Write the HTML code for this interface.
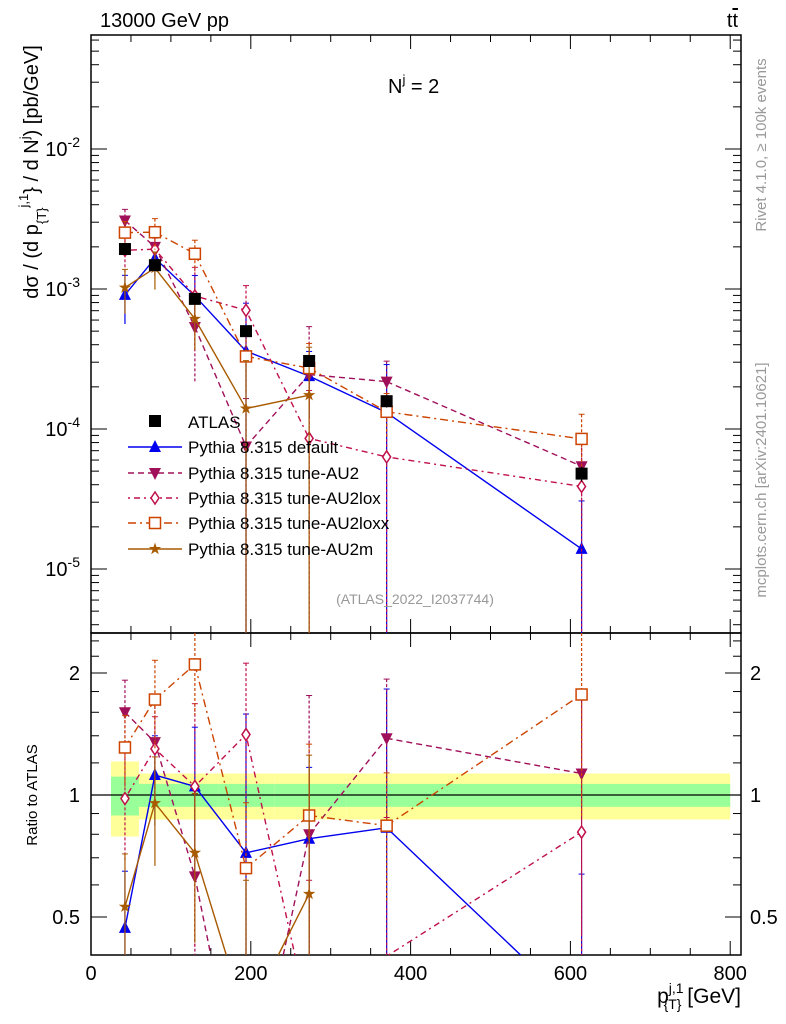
<!DOCTYPE html>
<html><head><meta charset="utf-8">
<style>
html,body{margin:0;background:#fff;overflow:hidden;width:786px;height:1024px;}
svg{display:block;font-family:"Liberation Sans",sans-serif;}
</style></head>
<body>
<svg id="chart" width="786" height="1024"></svg>
<script>
const xCenters=[42.5,80,130,194,273,370,614];
const atlasVals=[1.93e-3,1.48e-3,8.5e-4,5.0e-4,3.06e-4,1.58e-4,4.8e-5];
const atlasErr=[0.08,0.07,0.06,0.06,0.08,0.1,0.12];
const binEdges=[25,60,100,160,230,320,430,800];
const bandYellow=[0.21,0.13,0.13,0.13,0.13,0.13,0.13];
const bandGreen=[0.11,0.065,0.065,0.065,0.065,0.065,0.065];
const seriesNames=["Pythia 8.315 default","Pythia 8.315 tune-AU2","Pythia 8.315 tune-AU2lox","Pythia 8.315 tune-AU2loxx","Pythia 8.315 tune-AU2m"];
const ratioDefault=[0.47,1.12,1.05,0.72,0.78,0.83,0.29];
const ratioAU2=[1.6,1.35,0.63,0.15,0.8,1.38,1.13];
const ratioAU2lox=[0.98,1.3,1.05,1.41,0.28,0.4,0.81];
const ratioAU2loxx=[1.31,1.72,2.1,0.66,0.89,0.84,1.77];
const ratioAU2m=[0.53,0.955,0.72,0.28,0.57,null,null];
const errDefault=[0.38,0.25,0.4,1.2,0.5,1.2,1.2];
const errAU2=[0.2,0.3,0.6,1.2,1.2,0.4,0.6];
const errAU2lox=[0.3,0.2,0.6,0.5,1.2,1.2,1.2];
const errAU2loxx=[0.2,0.25,0.25,0.45,0.5,0.35,0.5];
const errAU2m=[0.35,0.3,0.4,1.2,1.2,null,null];
const xTicks=[0,200,400,600,800];

const svg=document.getElementById('chart');
const NS='http://www.w3.org/2000/svg';
function el(tag,attrs,parent){const e=document.createElementNS(NS,tag);for(const k in attrs)e.setAttribute(k,attrs[k]);(parent||svg).appendChild(e);return e;}
const X0=91,X1=741;
const xs=v=>91+v*0.799;
const MT=35,MB=633,RB=955;
const ys=v=>289-140*(Math.log10(v)+3);
const yr=r=>795-122*Math.log2(r);
const cl=(y,a,b)=>Math.max(a,Math.min(b,y));

const bands=el('g',{});


for(let i=0;i<bandYellow.length;i++){
  const x0=xs(binEdges[i]),x1=xs(binEdges[i+1]);
  el('rect',{x:x0,y:yr(1+bandYellow[i]),width:x1-x0,height:yr(1-bandYellow[i])-yr(1+bandYellow[i]),fill:'#ffff99'},bands);
}
for(let i=0;i<bandGreen.length;i++){
  const x0=xs(binEdges[i]),x1=xs(binEdges[i+1]);
  el('rect',{x:x0,y:yr(1+bandGreen[i]),width:x1-x0,height:yr(1-bandGreen[i])-yr(1+bandGreen[i]),fill:'#99ff99'},bands);
}
el('line',{x1:X0,x2:X1,y1:yr(1),y2:yr(1),stroke:'#000','stroke-width':1.2});

el('rect',{x:X0,y:MT,width:X1-X0,height:MB-MT,fill:'none',stroke:'#000','stroke-width':1.5});
el('rect',{x:X0,y:MB,width:X1-X0,height:RB-MB,fill:'none',stroke:'#000','stroke-width':1.5});

for(let v=0;v<=800;v+=50){
  const x=xs(v),L=(v%200===0)?14:7;
  el('line',{x1:x,x2:x,y1:MB,y2:MB-L,stroke:'#000'});
  el('line',{x1:x,x2:x,y1:MT,y2:MT+L,stroke:'#000'});
  el('line',{x1:x,x2:x,y1:RB,y2:RB-L,stroke:'#000'});
  el('line',{x1:x,x2:x,y1:MB,y2:MB+L,stroke:'#000'});
}
xTicks.forEach(v=>{const t=el('text',{x:xs(v),y:980,'text-anchor':'middle','font-size':20});t.textContent=v;
});
for(let d=-6;d<=-1;d++){for(let m=1;m<10;m++){const v=m*Math.pow(10,d);const y=ys(v);if(y<MT||y>MB)continue;const L=m===1?16:8;
el('line',{x1:X0,x2:X0+L,y1:y,y2:y,stroke:'#000'});el('line',{x1:X1,x2:X1-L,y1:y,y2:y,stroke:'#000'});}}
[-2,-3,-4,-5].forEach(d=>{const t=el('text',{x:80,y:ys(Math.pow(10,d))+7,'text-anchor':'end','font-size':20});

t.innerHTML='10<tspan dy="-9" font-size="14">'+d+'</tspan>';});
[0.5,0.6,0.7,0.8,0.9,1,1.2,1.4,1.6,1.8,2,2.2,2.4].forEach(r=>{const y=yr(r);if(y<MB||y>RB)return;const L=(r===0.5||r===1||r===2)?16:8;
el('line',{x1:X0,x2:X0+L,y1:y,y2:y,stroke:'#000'});el('line',{x1:X1,x2:X1-L,y1:y,y2:y,stroke:'#000'});});
[[2,'2'],[1,'1'],[0.5,'0.5']].forEach(([r,s])=>{
 const t=el('text',{x:80,y:yr(r)+7,'text-anchor':'end','font-size':20});t.textContent=s;
 
 const t2=el('text',{x:750,y:yr(r)+7,'font-size':20});t2.textContent=s;
 });

const series=[
 {name:seriesNames[0],r:ratioDefault,e:errDefault,color:'#0000ee',dash:'',marker:'tri'},
 {name:seriesNames[1],r:ratioAU2,e:errAU2,color:'#a0105a',dash:'6,4',marker:'tridown'},
 {name:seriesNames[2],r:ratioAU2lox,e:errAU2lox,color:'#c0104a',dash:'2,4,6,4',marker:'diamond'},
 {name:seriesNames[3],r:ratioAU2loxx,e:errAU2loxx,color:'#cc4400',dash:'8,4,2,4',marker:'square'},
 {name:seriesNames[4],r:ratioAU2m,e:errAU2m,color:'#a85a00',dash:'',marker:'star'}];
function marker(g,type,x,y,c){
 if(type==='tri')el('polygon',{points:`${x},${y-7} ${x-6},${y+5} ${x+6},${y+5}`,fill:c},g);
 else if(type==='tridown')el('polygon',{points:`${x},${y+7} ${x-6},${y-5} ${x+6},${y-5}`,fill:c},g);
 else if(type==='diamond')el('polygon',{points:`${x},${y-6} ${x-4},${y} ${x},${y+6} ${x+4},${y}`,fill:'#fff',stroke:c,'stroke-width':1.5},g);
 else if(type==='square')el('rect',{x:x-5.5,y:y-5.5,width:11,height:11,fill:'#fff',stroke:c,'stroke-width':1.5},g);
 else if(type==='star'){let p=[];for(let i=0;i<10;i++){const a=-Math.PI/2+i*Math.PI/5,rr=i%2?2.5:6.5;p.push((x+rr*Math.cos(a))+','+(y+rr*Math.sin(a)));}el('polygon',{points:p.join(' '),fill:c},g);}
 else if(type==='sq')el('rect',{x:x-6,y:y-6,width:12,height:12,fill:c},g);
}
// draw polyline segments clipped to [top,bot]
function clippedPath(pts,top,bot){
 let d='';
 for(let i=0;i<pts.length-1;i++){
  let [xa,ya]=pts[i],[xb,yb]=pts[i+1];
  if((ya>bot&&yb>bot)||(ya<top&&yb<top))continue;
  const f=(yt)=>xa+(xb-xa)*(yt-ya)/(yb-ya);
  if(ya>bot){xa=f(bot);ya=bot;}else if(ya<top){xa=f(top);ya=top;}
  if(yb>bot){xb=f(bot);yb=bot;}else if(yb<top){xb=f(top);yb=top;}
  d+=`M${xa},${ya}L${xb},${yb}`;
 }
 return d||'M0,0';
}

series.forEach((s,si)=>{
 const gm=el('g',{});
 
 const gr=el('g',{});
 
 let pm=[],pr=[];
 xCenters.forEach((xv,i)=>{const r=s.r[i];if(r==null)return;const x=xs(xv);
  const v=r*atlasVals[i];pm.push([x,ys(v)]);pr.push([x,yr(r)]);});
 el('path',{d:clippedPath(pm,MT,MB),fill:'none',stroke:s.color,'stroke-width':1.4,'stroke-dasharray':s.dash},gm);
 el('path',{d:clippedPath(pr,MB,RB),fill:'none',stroke:s.color,'stroke-width':1.4,'stroke-dasharray':s.dash},gr);
 xCenters.forEach((xv,i)=>{const r=s.r[i];if(r==null)return;const x=xs(xv),e=s.e[i];
  const v=r*atlasVals[i];
  const lo=e>=1?MB:cl(ys(v*(1-e)),MT,MB),hi=cl(ys(v*(1+e)),MT,MB);
  el('line',{x1:x,x2:x,y1:hi,y2:lo,stroke:s.color,'stroke-width':1.2,'stroke-dasharray':s.dash?'3,2':''},gm);
  el('line',{x1:x-3,x2:x+3,y1:hi,y2:hi,stroke:s.color},gm);
  const rlo=e>=1?RB:cl(yr(r*(1-e)),MB,RB),rhi=cl(yr(r*(1+e)),MB,RB);
  if(rhi<rlo){
   el('line',{x1:x,x2:x,y1:rhi,y2:rlo,stroke:s.color,'stroke-width':1.2,'stroke-dasharray':s.dash?'3,2':''},gr);
   if(rhi>MB)el('line',{x1:x-3,x2:x+3,y1:rhi,y2:rhi,stroke:s.color},gr);
  }
  const ym=ys(v),yy=yr(r);
  if(ym>MT+4&&ym<MB-4)marker(gm,s.marker,x,ym,s.color);
  if(yy>MB+4&&yy<RB-4)marker(gr,s.marker,x,yy,s.color);
 });
});
const ga=el('g',{});

xCenters.forEach((xv,i)=>{const x=xs(xv),v=atlasVals[i],e=atlasErr[i];
 el('line',{x1:x,x2:x,y1:ys(v*(1+e)),y2:ys(v*(1-e)),stroke:'#000'},ga);
 marker(ga,'sq',x,ys(v),'#000');});

const lg=el('g',{});

const legY=[421,447,473,498,523,549];
marker(lg,'sq',155,legY[0],'#000');
let t0=el('text',{x:188,y:legY[0]+7,'font-size':17},lg);t0.textContent='ATLAS';
series.forEach((s,i)=>{const y=legY[i+1];
 const e=el('g',{},lg);
 
 el('line',{x1:128,x2:182,y1:y,y2:y,stroke:s.color,'stroke-width':1.4,'stroke-dasharray':s.dash},e);
 marker(e,s.marker,155,y,s.color);
 const t=el('text',{x:188,y:y+6,'font-size':17},e);t.textContent=s.name;});

function txt(x,y,s,attrs,name){const t=el('text',Object.assign({x:x,y:y},attrs));t.innerHTML=s;return t;}
txt(100,27,'13000 GeV pp',{'font-size':20},'energy-label');
txt(738,27,'t<tspan text-decoration="overline">t</tspan>',{'font-size':20,'text-anchor':'end'},'process-label');
txt(388,93,'N<tspan dy="-9" font-size="13">j</tspan><tspan dy="9"> = 2</tspan>',{'font-size':20},'jet-multiplicity-label');
txt(415,604,'(ATLAS_2022_I2037744)',{'font-size':14,fill:'#999','text-anchor':'middle'},'analysis-label');
txt(0,0,'Rivet 4.1.0, ≥ 100k events',{'font-size':15,fill:'#999','text-anchor':'middle',transform:'translate(766,145) rotate(-90)'},'rivet-label');
txt(0,0,'mcplots.cern.ch [arXiv:2401.10621]',{'font-size':15,fill:'#999','text-anchor':'middle',transform:'translate(766,480) rotate(-90)'},'mcplots-label');
txt(0,0,'dσ / (d p<tspan dy="8" font-size="13">{T}</tspan><tspan dy="-18" font-size="13">j,1</tspan><tspan dy="10">} / d N</tspan><tspan dy="-9" font-size="13">j</tspan><tspan dy="9">) [pb/GeV]</tspan>',{'font-size':20,'text-anchor':'middle',transform:'translate(38,172) rotate(-90)'},'y-axis-title');
txt(0,0,'Ratio to ATLAS',{'font-size':15,'text-anchor':'middle',transform:'translate(37,795) rotate(-90)'},'ratio-axis-title');
txt(741,1003,'p<tspan dy="-10" font-size="14">j,1</tspan><tspan dx="-20" dy="16" font-size="14">{T}</tspan><tspan dy="-6"> [GeV]</tspan>',{'font-size':21,'text-anchor':'end'},'x-axis-title');
</script>
</body></html>
